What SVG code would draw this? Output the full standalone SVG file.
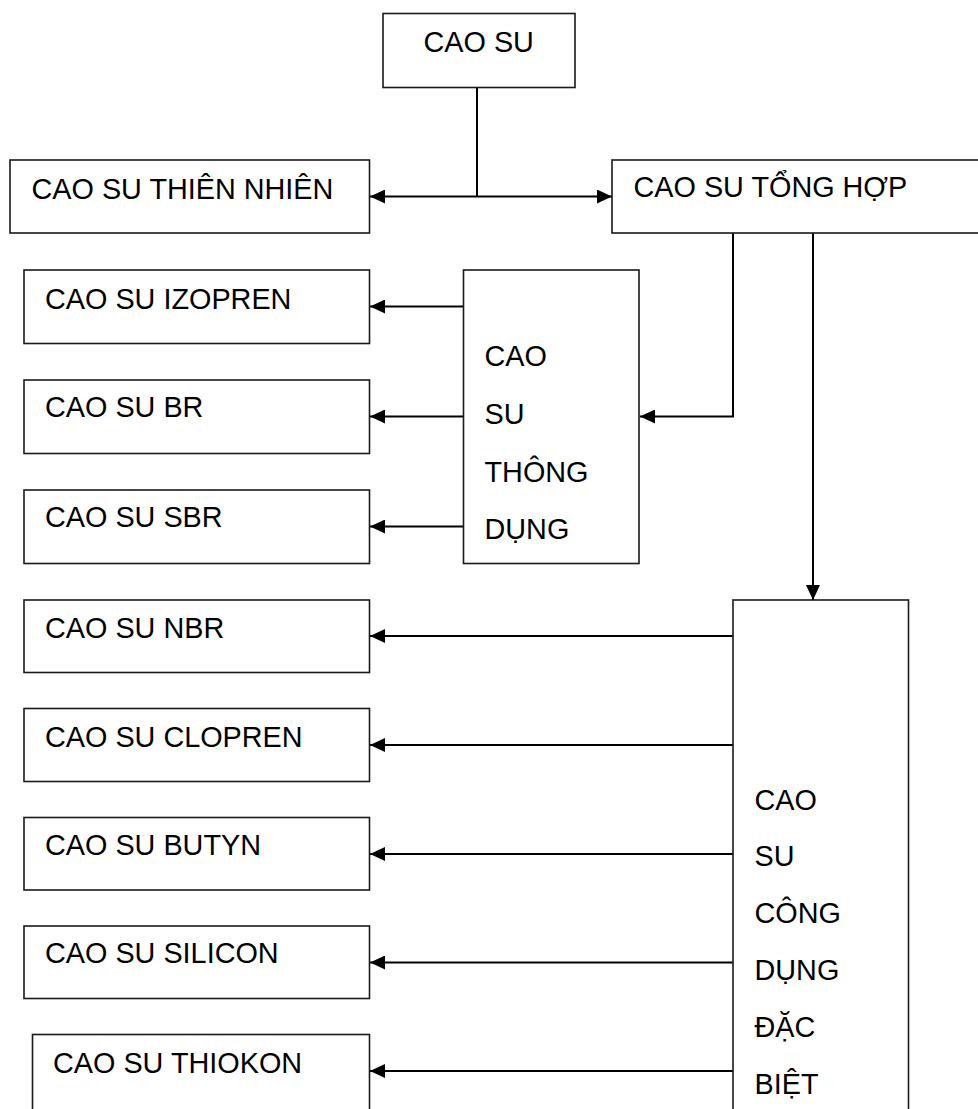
<svg xmlns="http://www.w3.org/2000/svg" width="978" height="1109" viewBox="0 0 978 1109">
<style>
rect.box{fill:#fff;stroke:#1a1a1a;stroke-width:1.6}
text{font-family:"Liberation Sans",Arial,sans-serif;font-size:28.8px;fill:#000}
.conn path,.conn line{stroke:#000;stroke-width:2;fill:none}
</style>
<defs>
<marker id="ah" viewBox="0 0 15 14" refX="15" refY="7" markerWidth="15" markerHeight="14" markerUnits="userSpaceOnUse" orient="auto-start-reverse">
<path d="M0,0 L15,7 L0,14 Z" fill="#000"/>
</marker>
</defs>
<rect width="978" height="1109" fill="#fff"/>
<g class="conn">
<line x1="477" y1="87" x2="477" y2="196.5"/>
<line x1="370" y1="196.5" x2="612" y2="196.5" marker-start="url(#ah)" marker-end="url(#ah)"/>
<path d="M733,233 V416.5 H640" marker-end="url(#ah)"/>
<path d="M813,233 V600" marker-end="url(#ah)"/>
<line x1="463" y1="306.5" x2="370" y2="306.5" marker-end="url(#ah)"/>
<line x1="463" y1="416.5" x2="370" y2="416.5" marker-end="url(#ah)"/>
<line x1="463" y1="526.5" x2="370" y2="526.5" marker-end="url(#ah)"/>
<line x1="733" y1="636" x2="370" y2="636" marker-end="url(#ah)"/>
<line x1="733" y1="745" x2="370" y2="745" marker-end="url(#ah)"/>
<line x1="733" y1="854" x2="370" y2="854" marker-end="url(#ah)"/>
<line x1="733" y1="962.5" x2="370" y2="962.5" marker-end="url(#ah)"/>
<line x1="733" y1="1071" x2="370" y2="1071" marker-end="url(#ah)"/>
</g>
<g id="n-caosu"><rect class="box" x="383" y="13.5" width="192" height="74"/><text x="423.5" y="51.5">CAO SU</text></g>
<g id="n-thiennhien"><rect class="box" x="10" y="160" width="359.5" height="73"/><text x="31.5" y="199">CAO SU THIÊN NHIÊN</text></g>
<g id="n-tonghop"><rect class="box" x="612" y="160" width="380" height="73"/><text x="633.5" y="197">CAO SU TỔNG HỢP</text></g>
<g id="n-thongdung"><rect class="box" x="463.5" y="270" width="175.5" height="293.5"/><text x="484.5" y="366">CAO</text><text x="484.5" y="423.5">SU</text><text x="484.5" y="481.5">THÔNG</text><text x="484.5" y="538.5">DỤNG</text></g>
<g id="n-izopren"><rect class="box" x="24" y="270" width="345.5" height="73.5"/><text x="45" y="309">CAO SU IZOPREN</text></g>
<g id="n-br"><rect class="box" x="24" y="380" width="345.5" height="73.5"/><text x="45" y="416.5">CAO SU BR</text></g>
<g id="n-sbr"><rect class="box" x="24" y="490" width="345.5" height="73.5"/><text x="45" y="526.5">CAO SU SBR</text></g>
<g id="n-congdung"><rect class="box" x="733" y="600" width="175.5" height="540"/><text x="754.5" y="809.5">CAO</text><text x="754.5" y="866">SU</text><text x="754.5" y="922.5">CÔNG</text><text x="754.5" y="979.5">DỤNG</text><text x="754.5" y="1036.5">ĐẶC</text><text x="754.5" y="1093.5">BIỆT</text></g>
<g id="n-nbr"><rect class="box" x="24" y="600" width="345.5" height="72.5"/><text x="45" y="638">CAO SU NBR</text></g>
<g id="n-clopren"><rect class="box" x="24" y="708.5" width="345.5" height="73"/><text x="45" y="746.5">CAO SU CLOPREN</text></g>
<g id="n-butyn"><rect class="box" x="24" y="817.5" width="345.5" height="72.5"/><text x="45" y="855">CAO SU BUTYN</text></g>
<g id="n-silicon"><rect class="box" x="24" y="926" width="345.5" height="72.5"/><text x="45" y="963">CAO SU SILICON</text></g>
<g id="n-thiokon"><rect class="box" x="32.5" y="1034.5" width="337" height="110"/><text x="53" y="1072.5">CAO SU THIOKON</text></g>
</svg>
